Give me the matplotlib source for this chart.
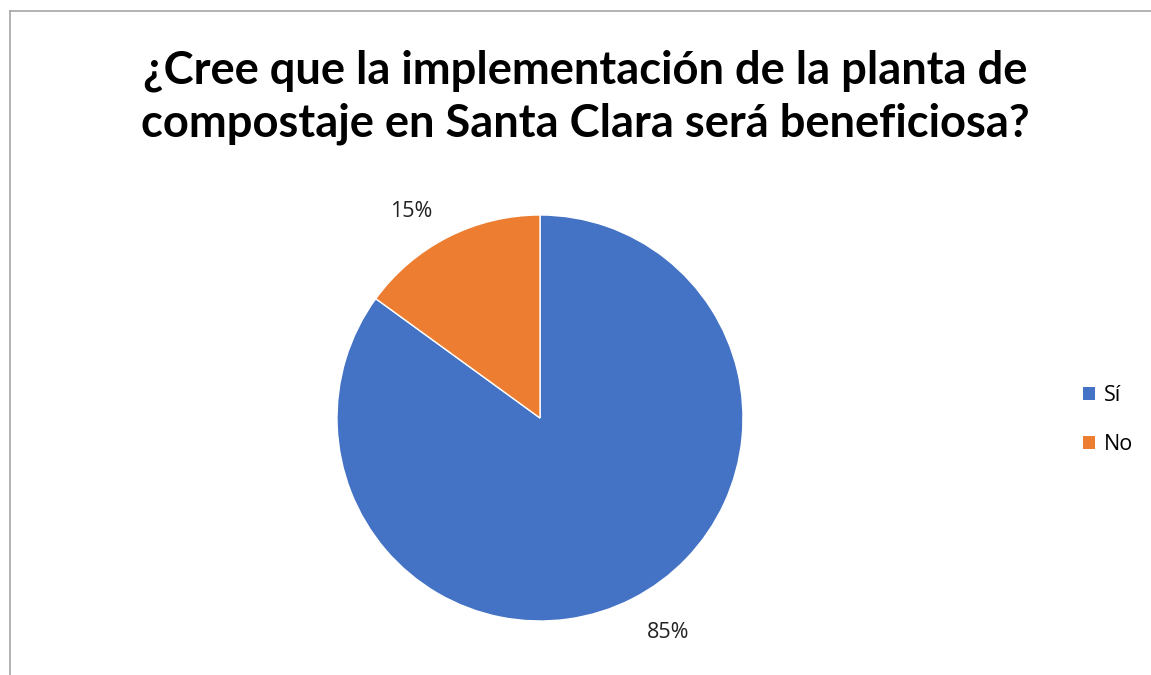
import matplotlib
matplotlib.use("Agg")
import matplotlib.pyplot as plt
from matplotlib.lines import Line2D
from matplotlib.patches import Patch

title = "¿Cree que la implementación de la planta de\ncompostaje en Santa Clara será beneficiosa?"
labels = ["Sí", "No"]
values = [85, 15]
colors = ["#4472C4", "#ED7D31"]

W, H = 1151, 675
fig = plt.figure(figsize=(W / 100, H / 100), dpi=100)

# chart frame (left and top edges visible)
fig.add_artist(Line2D([10 / W, 10 / W], [0, 1 - 11 / H], transform=fig.transFigure,
                      color="#a6a6a6", lw=1.2))
fig.add_artist(Line2D([10 / W, 1], [1 - 11 / H, 1 - 11 / H], transform=fig.transFigure,
                      color="#a6a6a6", lw=1.2))

cx, cy, r = 540, 418, 203
ax = fig.add_axes([(cx - r) / W, (H - cy - r) / H, 2 * r / W, 2 * r / H])
wedges, texts, autotexts = ax.pie(
    values, colors=colors, startangle=90, counterclock=False,
    autopct=lambda p: f"{p:.0f}%", pctdistance=1.18,
    wedgeprops=dict(edgecolor="white", linewidth=1),
    textprops=dict(fontsize=15.5, family=["Open Sans", "DejaVu Sans"], color="#222222"))
# label placement like the original (outside end)
autotexts[0].set_position((0.63, -1.055))
autotexts[1].set_position((-0.635, 1.015))
ax.set_xlim(-1, 1)
ax.set_ylim(-1, 1)
ax.set_aspect("equal")

fig.text(585 / W, 1 - 97 / H, title, ha="center", va="center",
         fontsize=32.6, fontweight="bold", family=["Lato", "DejaVu Sans"],
         linespacing=1.32, color="#000000")

handles = [Patch(facecolor=c, label=l) for c, l in zip(colors, labels)]
fig.legend(handles=handles, loc="center left", bbox_to_anchor=(1064 / W, 1 - 420 / H),
           frameon=False, handlelength=0.55, handleheight=0.55,
           handletextpad=0.4, labelspacing=1.3,
           prop=dict(family=["Open Sans", "DejaVu Sans"], size=15.5))

fig.savefig("out.png", dpi=100, facecolor="white")
